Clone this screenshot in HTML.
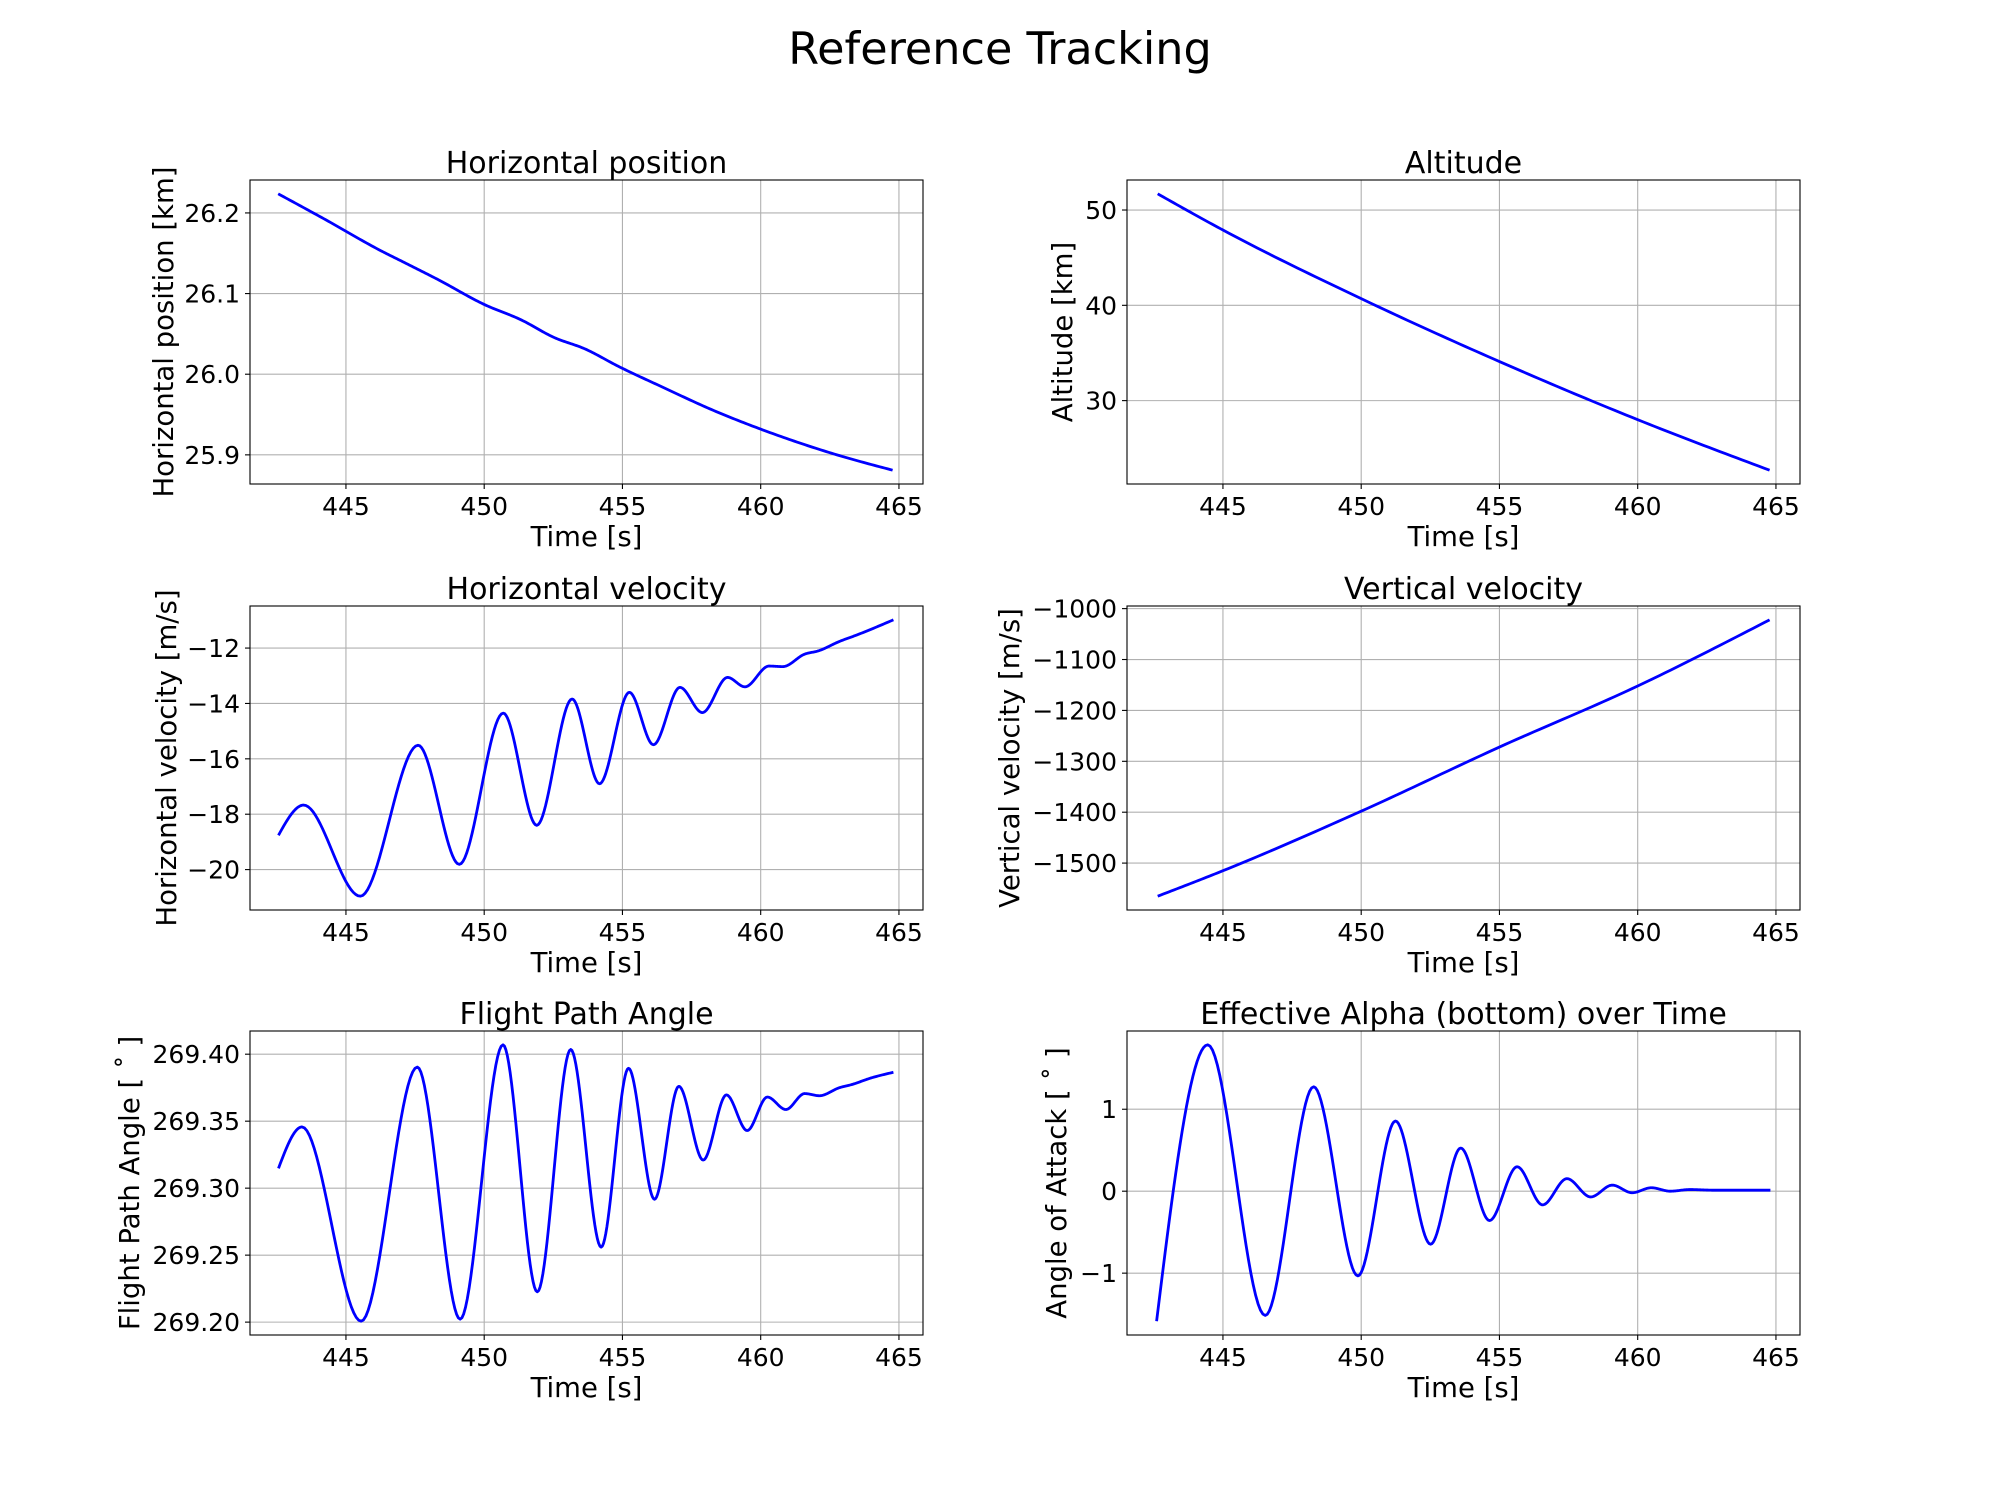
<!DOCTYPE html>
<html><head><meta charset="utf-8"><style>
html,body{margin:0;padding:0;background:#fff;}
svg{display:block;font-family:"DejaVu Sans","Liberation Sans",sans-serif;}
</style></head><body>
<svg id="fig" width="2000" height="1500" viewBox="0 0 2000 1500" xmlns="http://www.w3.org/2000/svg">
<rect width="2000" height="1500" fill="#fff"/>
<text x="1000" y="64" font-size="44.5" text-anchor="middle">Reference Tracking</text>
</svg>
<script>
// shared x ticks
const xTicks = [445, 450, 455, 460, 465];
const xLim = [441.53, 465.87];

// Horizontal position [km]
const hpT = [442.55,444.19,446.27,447.2,448.35,449.97,451.36,452.5,453.67,454.84,456.45,458.3,460.15,462.47,464.77];
const hpV = [26.2237,26.193,26.153,26.137,26.117,26.087,26.067,26.046,26.031,26.010,25.984,25.955,25.930,25.903,25.881];
const hpTicks = [25.9, 26.0, 26.1, 26.2];
const hpTickLabels = ["25.9","26.0","26.1","26.2"];

// Altitude [km]
const altT = [442.64,445,450,455,460,464.77];
const altV = [51.7,47.9,40.7,34.1,28.0,22.7];
const altTicks = [30,40,50];
const altTickLabels = ["30","40","50"];

// Horizontal velocity [m/s]
const hvT = [442.56,443.47,445.52,447.61,449.10,450.69,451.90,453.18,454.17,455.25,456.12,457.08,457.89,458.80,459.43,460.30,460.80,461.59,462.09,462.85,463.47,464.80];
const hvV = [-18.76,-17.67,-20.96,-15.51,-19.81,-14.35,-18.40,-13.84,-16.90,-13.60,-15.49,-13.42,-14.33,-13.06,-13.40,-12.65,-12.67,-12.22,-12.10,-11.76,-11.53,-10.98];
const hvTicks = [-20,-18,-16,-14,-12];
const hvTickLabels = ["−20","−18","−16","−14","−12"];

// Vertical velocity [m/s]
const vvT = [442.64,445,450,455,460,464.77];
const vvV = [-1565,-1515,-1398,-1272,-1152,-1022];
const vvTicks = [-1500,-1400,-1300,-1200,-1100,-1000];
const vvTickLabels = ["−1500","−1400","−1300","−1200","−1100","−1000"];

// Flight path angle [deg]
const fpaT = [442.56,443.41,445.55,447.58,449.13,450.68,451.92,453.13,454.23,455.22,456.16,457.04,457.92,458.76,459.51,460.24,460.91,461.59,462.12,462.85,463.32,463.95,464.80];
const fpaV = [269.3148,269.3457,269.2007,269.3904,269.2022,269.407,269.2226,269.4035,269.256,269.3895,269.2917,269.376,269.321,269.3696,269.343,269.368,269.3587,269.3706,269.369,269.375,269.3775,269.382,269.3865];
const fpaTicks = [269.20,269.25,269.30,269.35,269.40];
const fpaTickLabels = ["269.20","269.25","269.30","269.35","269.40"];

// Effective alpha [deg]
const aoaT = [442.60,444.45,446.53,448.28,449.88,451.24,452.51,453.60,454.64,455.64,456.56,457.44,458.30,459.08,459.80,460.49,461.18,461.88,462.8,463.8,464.80];
const aoaV = [-1.586,1.786,-1.516,1.274,-1.033,0.856,-0.647,0.526,-0.358,0.298,-0.167,0.153,-0.070,0.074,-0.019,0.042,0.0,0.02,0.012,0.012,0.012];
const aoaTicks = [-1,0,1];
const aoaTickLabels = ["−1","0","1"];

const NS = "http://www.w3.org/2000/svg";
const fig = document.getElementById('fig');
function mk(tag, attrs, parent){const e=document.createElementNS(NS,tag);for(const k in attrs)e.setAttribute(k,attrs[k]);(parent||fig).appendChild(e);return e;}

function monotone(xs, ys, n){
  const N=xs.length, t=new Array(N).fill(0), s=[];
  for(let i=0;i<N-1;i++) s.push((ys[i+1]-ys[i])/(xs[i+1]-xs[i]));
  for(let i=1;i<N-1;i++){
    const h0=xs[i]-xs[i-1], h1=xs[i+1]-xs[i], s0=s[i-1], s1=s[i];
    const p=(s0*h1+s1*h0)/(h0+h1);
    t[i]=(Math.sign(s0)+Math.sign(s1))*Math.min(Math.abs(s0),Math.abs(s1),0.5*Math.abs(p))||0;
  }
  t[0]=N>2?(3*s[0]-t[1])/2:s[0];
  t[N-1]=N>2?(3*s[N-2]-t[N-2])/2:s[N-2];
  const out=[];
  for(let i=0;i<N-1;i++){
    const h=xs[i+1]-xs[i];
    for(let k=0;k<n;k++){
      const u=k/n, h00=2*u*u*u-3*u*u+1, h10=u*u*u-2*u*u+u, h01=-2*u*u*u+3*u*u, h11=u*u*u-u*u;
      out.push([xs[i]+u*h, h00*ys[i]+h10*h*t[i]+h01*ys[i+1]+h11*h*t[i+1]]);
    }
  }
  out.push([xs[N-1],ys[N-1]]);
  return out;
}

function panel(o){
  const L=o.left, T=o.top, W=673, H=304;
  const g=mk('g',{});
  
  
  const pts=monotone(o.t,o.v,24);
  let mn=Infinity,mx=-Infinity; pts.forEach(p=>{mn=Math.min(mn,p[1]);mx=Math.max(mx,p[1]);});
  const r=mx-mn, y0=mn-0.05*r, y1=mx+0.05*r;
  const X=x=>L+(x-xLim[0])/(xLim[1]-xLim[0])*W;
  const Y=y=>T+H-(y-y0)/(y1-y0)*H;
  xTicks.forEach((tk,i)=>{
    const gl=mk('line',{x1:X(tk),x2:X(tk),y1:T,y2:T+H,stroke:'#b0b0b0','stroke-width':1.1},g);
    
    
    mk('line',{x1:X(tk),x2:X(tk),y1:T+H,y2:T+H+5,stroke:'#000','stroke-width':1.1},g);
    const tl=mk('text',{x:X(tk),y:T+H+31,'font-size':25,'text-anchor':'middle'},g);
    
    
    tl.textContent=String(tk);
  });
  o.ticks.forEach((tk,i)=>{
    const gl=mk('line',{x1:L,x2:L+W,y1:Y(tk),y2:Y(tk),stroke:'#b0b0b0','stroke-width':1.1},g);
    
    
    mk('line',{x1:L-5,x2:L,y1:Y(tk),y2:Y(tk),stroke:'#000','stroke-width':1.1},g);
    const tl=mk('text',{x:L-10,y:Y(tk)+9,'font-size':25,'text-anchor':'end'},g);
    
    
    tl.textContent=o.labels[i];
  });
  const d=pts.map((p,i)=>(i?'L':'M')+X(p[0]).toFixed(2)+' '+Y(p[1]).toFixed(2)).join('');
  const ln=mk('path',{d:d,fill:'none',stroke:'#0000ff','stroke-width':2.8,'stroke-linejoin':'round','stroke-linecap':'butt'},g);
  
  
  const fr=mk('rect',{x:L,y:T,width:W,height:H,fill:'none',stroke:'#000','stroke-width':1.1},g);
  
  
  const ti=mk('text',{x:L+W/2,y:T-7,'font-size':30,'text-anchor':'middle'},g);
  
  
  ti.textContent=o.title;
  const xl=mk('text',{x:L+W/2,y:T+H+62,'font-size':27.5,'text-anchor':'middle'},g);
  
  
  xl.textContent='Time [s]';
  const yl=mk('text',{x:0,y:0,'font-size':27.5,'text-anchor':'middle',transform:'translate('+(o.ylx+10)+','+(T+H/2)+') rotate(-90)'},g);
  
  
  yl.textContent=o.ylabel;
}

panel({name:'horizontal-position-panel',left:250,top:180,t:hpT,v:hpV,ticks:hpTicks,labels:hpTickLabels,title:'Horizontal position',ylabel:'Horizontal position [km]',ylx:163});
panel({name:'altitude-panel',left:1127,top:180,t:altT,v:altV,ticks:altTicks,labels:altTickLabels,title:'Altitude',ylabel:'Altitude [km]',ylx:1062});
panel({name:'horizontal-velocity-panel',left:250,top:606,t:hvT,v:hvV,ticks:hvTicks,labels:hvTickLabels,title:'Horizontal velocity',ylabel:'Horizontal velocity [m/s]',ylx:166});
panel({name:'vertical-velocity-panel',left:1127,top:606,t:vvT,v:vvV,ticks:vvTicks,labels:vvTickLabels,title:'Vertical velocity',ylabel:'Vertical velocity [m/s]',ylx:1009});
panel({name:'flight-path-angle-panel',left:250,top:1031,t:fpaT,v:fpaV,ticks:fpaTicks,labels:fpaTickLabels,title:'Flight Path Angle',ylabel:'Flight Path Angle [ ˚ ]',ylx:129});
panel({name:'angle-of-attack-panel',left:1127,top:1031,t:aoaT,v:aoaV,ticks:aoaTicks,labels:aoaTickLabels,title:'Effective Alpha (bottom) over Time',ylabel:'Angle of Attack [ ˚ ]',ylx:1056});
</script>
</body></html>
